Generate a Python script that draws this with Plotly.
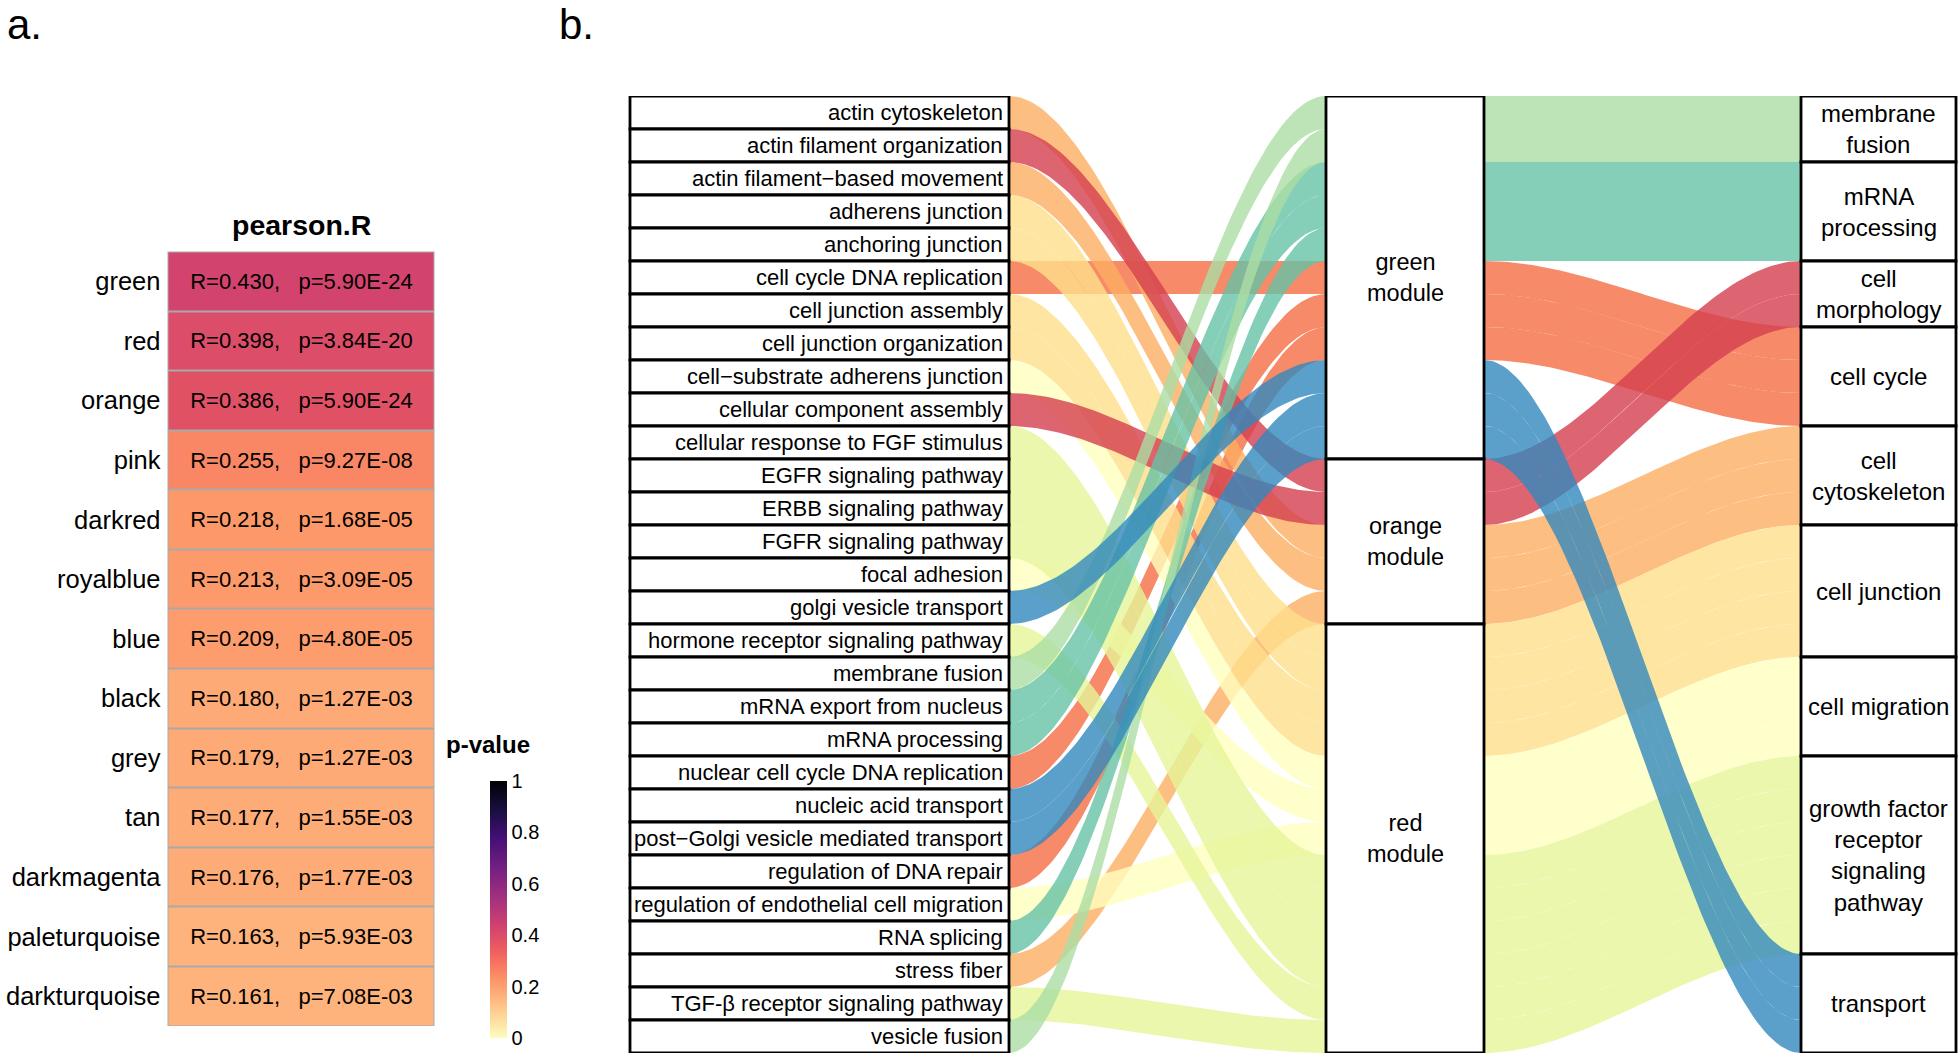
import numpy as np
import plotly.graph_objects as go

W, H = 1960, 1056
FONT = "Liberation Sans, Arial, sans-serif"

# ---------------- panel a data ----------------
a_modules = ["green", "red", "orange", "pink", "darkred", "royalblue", "blue", "black",
             "grey", "tan", "darkmagenta", "paleturquoise", "darkturquoise"]
a_r = [0.430, 0.398, 0.386, 0.255, 0.218, 0.213, 0.209, 0.180, 0.179, 0.177, 0.176, 0.163, 0.161]
a_p = ["5.90E-24", "3.84E-20", "5.90E-24", "9.27E-08", "1.68E-05", "3.09E-05", "4.80E-05",
       "1.27E-03", "1.27E-03", "1.55E-03", "1.77E-03", "5.93E-03", "7.08E-03"]
cbar_ticks = [0, 0.2, 0.4, 0.6, 0.8, 1]
cbar_ticktext = ["0", "0.2", "0.4", "0.6", "0.8", "1"]

# ---------------- panel b data ----------------
go_terms = [
    "actin cytoskeleton", "actin filament organization", "actin filament\u2212based movement",
    "adherens junction", "anchoring junction", "cell cycle DNA replication",
    "cell junction assembly", "cell junction organization", "cell\u2212substrate adherens junction",
    "cellular component assembly", "cellular response to FGF stimulus", "EGFR signaling pathway",
    "ERBB signaling pathway", "FGFR signaling pathway", "focal adhesion", "golgi vesicle transport",
    "hormone receptor signaling pathway", "membrane fusion", "mRNA export from nucleus",
    "mRNA processing", "nuclear cell cycle DNA replication", "nucleic acid transport",
    "post\u2212Golgi vesicle mediated transport", "regulation of DNA repair",
    "regulation of endothelial cell migration", "RNA splicing", "stress fiber",
    "TGF-\u03b2 receptor signaling pathway", "vesicle fusion"]
term_category = [
    "cell cytoskeleton", "cell morphology", "cell cytoskeleton", "cell junction", "cell junction",
    "cell cycle", "cell junction", "cell junction", "cell migration", "cell morphology",
    "growth factor receptor signaling pathway", "growth factor receptor signaling pathway",
    "growth factor receptor signaling pathway", "growth factor receptor signaling pathway",
    "cell migration", "transport", "growth factor receptor signaling pathway", "membrane fusion",
    "mRNA processing", "mRNA processing", "cell cycle", "transport", "transport", "cell cycle",
    "cell migration", "mRNA processing", "cell cytoskeleton",
    "growth factor receptor signaling pathway", "membrane fusion"]
categories = ["membrane fusion", "mRNA processing", "cell morphology", "cell cycle",
              "cell cytoskeleton", "cell junction", "cell migration",
              "growth factor receptor signaling pathway", "transport"]
category_labels = ["membrane<br>fusion", "mRNA<br>processing", "cell<br>morphology", "cell cycle",
                   "cell<br>cytoskeleton", "cell junction", "cell migration",
                   "growth factor<br>receptor<br>signaling<br>pathway", "transport"]
category_module = ["green module", "green module", "orange module", "green module", "orange module",
                   "red module", "red module", "red module", "green module"]
modules = ["green module", "orange module", "red module"]
module_labels = ["green<br>module", "orange<br>module", "red<br>module"]
category_colors = {
    "cell morphology": "#d53e4f", "cell cycle": "#f46d43", "cell cytoskeleton": "#fdae61",
    "cell junction": "#fee08b", "cell migration": "#ffffbf",
    "growth factor receptor signaling pathway": "#e6f598", "membrane fusion": "#abdda4",
    "mRNA processing": "#66c2a5", "transport": "#3288bd"}
FLOW_ALPHA = 0.8

# ---------------- layout geometry (pixels) ----------------
LEFT_BOX = (630, 1009)
MOD_BOX = (1326, 1484)
RIGHT_BOX = (1801, 1956)
B_TOP, B_BOT = 96, 1053
X2_LO = 588


def px_x(p):
    return p / W


def px_y(p):
    return 1 - p / H


def rgba(hexc, a):
    h = hexc.lstrip("#")
    r, g, b = int(h[0:2], 16), int(h[2:4], 16), int(h[4:6], 16)
    return f"rgba({r},{g},{b},{a})"


fig = go.Figure()

# ---------------- panel a: heatmap ----------------
cell_text = [[f"R={r:.3f},\u00a0\u00a0\u00a0p={p}"] for r, p in zip(a_r, a_p)]
fig.add_trace(go.Heatmap(
    z=[[r] for r in a_r], x=[0], y=list(range(len(a_modules))),
    text=cell_text, texttemplate="%{text}",
    textfont=dict(size=22, color="black", family=FONT),
    colorscale="Magma", reversescale=True, zmin=0, zmax=1,
    xgap=2, ygap=2, hoverinfo="skip",
    colorbar=dict(x=px_x(490), xanchor="left", y=px_y(1038), yanchor="bottom",
                  len=257, lenmode="pixels", thickness=17, thicknessmode="pixels",
                  outlinewidth=0, ticks="", tickvals=cbar_ticks, ticktext=cbar_ticktext,
                  tickfont=dict(size=20, color="black", family=FONT), xpad=0, ypad=0),
    xaxis="x", yaxis="y"))

# ---------------- panel b: alluvial flows ----------------
n = len(go_terms)
module_pos = {}
module_span = {}
pos = 0
for m in modules:
    start = pos
    for c, cm in zip(categories, category_module):
        if cm != m:
            continue
        for i in range(n):
            if term_category[i] == c:
                module_pos[i] = pos
                pos += 1
    module_span[m] = (start, pos)
cat_pos = {}
cat_span = {}
pos = 0
for c in categories:
    start = pos
    members = sorted([i for i in range(n) if term_category[i] == c], key=lambda i: module_pos[i])
    for i in members:
        cat_pos[i] = pos
        pos += 1
    cat_span[c] = (start, pos)

t = np.linspace(0, 1, 80)
s = t * t * (3 - 2 * t)


def ribbon(x0, x1, y0, y1):
    xs = x0 + (x1 - x0) * t
    top = y0 + (y1 - y0) * s
    bot = top + 1
    return np.concatenate([xs, xs[::-1], [xs[0]]]), np.concatenate([top, bot[::-1], [top[0]]])


draw_order = sorted(range(n), key=lambda i: (sorted(categories).index(term_category[i]), i))
for i in draw_order:
    col = rgba(category_colors[term_category[i]], FLOW_ALPHA)
    for (xa, xb, ya, yb) in [(LEFT_BOX[1], MOD_BOX[0], i, module_pos[i]),
                             (MOD_BOX[1], RIGHT_BOX[0], module_pos[i], cat_pos[i])]:
        xs, ys = ribbon(xa, xb, ya, yb)
        fig.add_trace(go.Scatter(x=xs, y=ys, mode="lines", fill="toself", fillcolor=col,
                                 line=dict(width=0), hoverinfo="skip", showlegend=False,
                                 xaxis="x2", yaxis="y2"))

shapes = []
annotations = []
shapes.append(dict(type="rect", xref="x domain", yref="y domain", x0=0, x1=1, y0=0, y1=1,
                   fillcolor="#a9a9a9", line=dict(width=0), layer="below"))

BOX_LINE = dict(color="black", width=2.8)
for i, term in enumerate(go_terms):
    shapes.append(dict(type="rect", xref="x2", yref="y2", x0=LEFT_BOX[0], x1=LEFT_BOX[1],
                       y0=i, y1=i + 1, fillcolor="white", line=BOX_LINE))
    annotations.append(dict(xref="x2", yref="y2", x=LEFT_BOX[1] - 4, y=i + 0.5, text=term,
                            xanchor="right", yanchor="middle", showarrow=False,
                            font=dict(size=22, color="black", family=FONT)))
for m, lab in zip(modules, module_labels):
    a, b = module_span[m]
    shapes.append(dict(type="rect", xref="x2", yref="y2", x0=MOD_BOX[0], x1=MOD_BOX[1],
                       y0=a, y1=b, fillcolor="white", line=BOX_LINE))
    annotations.append(dict(xref="x2", yref="y2", x=(MOD_BOX[0] + MOD_BOX[1]) / 2, y=(a + b) / 2,
                            text=lab, showarrow=False, xanchor="center", yanchor="middle",
                            font=dict(size=23.5, color="black", family=FONT)))
for c, lab in zip(categories, category_labels):
    a, b = cat_span[c]
    shapes.append(dict(type="rect", xref="x2", yref="y2", x0=RIGHT_BOX[0], x1=RIGHT_BOX[1],
                       y0=a, y1=b, fillcolor="white", line=BOX_LINE))
    annotations.append(dict(xref="x2", yref="y2", x=(RIGHT_BOX[0] + RIGHT_BOX[1]) / 2,
                            y=(a + b) / 2, text=lab, showarrow=False, xanchor="center",
                            yanchor="middle", font=dict(size=24, color="black", family=FONT)))

annotations += [
    dict(xref="paper", yref="paper", x=px_x(6), y=1, text="a.", showarrow=False,
         xanchor="left", yanchor="top", borderpad=0,
         font=dict(size=42, color="black", family=FONT)),
    dict(xref="paper", yref="paper", x=px_x(558), y=1, text="b.", showarrow=False,
         xanchor="left", yanchor="top", borderpad=0,
         font=dict(size=42, color="black", family=FONT)),
    dict(xref="paper", yref="paper", x=px_x(301), y=px_y(225), text="<b>pearson.R</b>",
         showarrow=False, xanchor="center", yanchor="middle",
         font=dict(size=28.5, color="black", family=FONT)),
    dict(xref="paper", yref="paper", x=px_x(444), y=px_y(744), text="<b>p-value</b>",
         showarrow=False, xanchor="left", yanchor="middle",
         font=dict(size=24, color="black", family=FONT)),
]

fig.update_layout(
    width=W, height=H, margin=dict(l=0, r=0, t=0, b=0, autoexpand=False),
    paper_bgcolor="white", plot_bgcolor="rgba(0,0,0,0)", showlegend=False,
    font=dict(family=FONT, color="black"),
    xaxis=dict(domain=[px_x(167.5), px_x(434.5)], range=[-0.5, 0.5], visible=False,
               fixedrange=True, automargin=False),
    yaxis=dict(domain=[px_y(1026), px_y(251.5)], range=[len(a_modules) - 0.5, -0.5],
               tickvals=list(range(len(a_modules))), ticktext=a_modules, ticks="",
               showgrid=False, zeroline=False, showline=False, ticklabelstandoff=6,
               automargin=False, tickfont=dict(size=25.5, color="black", family=FONT)),
    xaxis2=dict(domain=[px_x(X2_LO), 1], range=[X2_LO, W], visible=False, anchor="y2",
                automargin=False),
    yaxis2=dict(domain=[px_y(B_BOT), px_y(B_TOP)], range=[n, 0], visible=False, anchor="x2",
                automargin=False),
    shapes=shapes, annotations=annotations,
)

fig.write_html("out.html", config={"displayModeBar": False},
               post_script="document.body.style.margin='0px';document.body.style.overflow='hidden';")
